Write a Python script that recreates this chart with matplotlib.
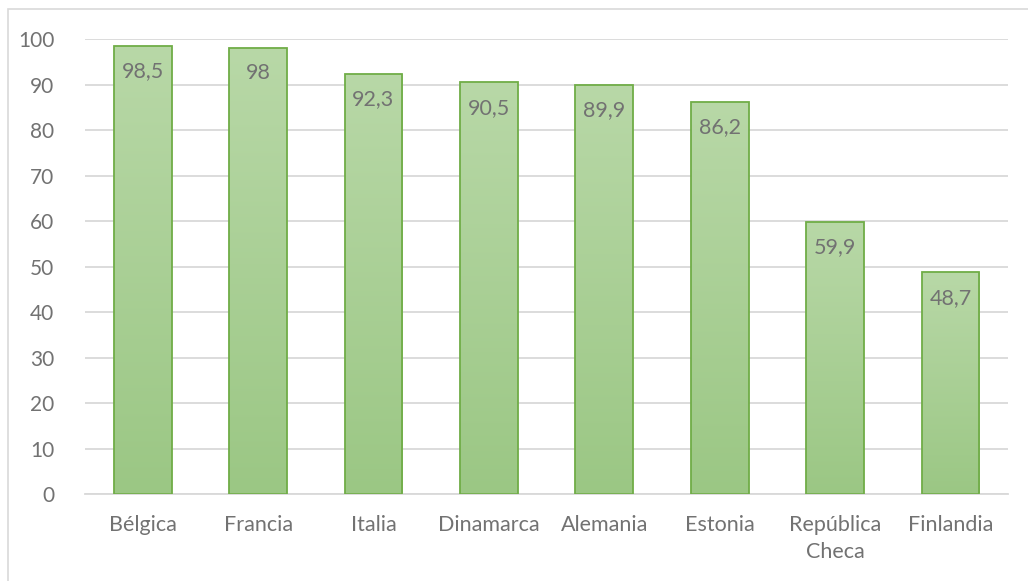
import numpy as np
import matplotlib.pyplot as plt
from matplotlib.colors import LinearSegmentedColormap
from matplotlib.patches import Rectangle

# Data
countries = ["Bélgica", "Francia", "Italia", "Dinamarca", "Alemania",
             "Estonia", "República\nCheca", "Finlandia"]
values = [98.5, 98, 92.3, 90.5, 89.9, 86.2, 59.9, 48.7]
value_labels = ["98,5", "98", "92,3", "90,5", "89,9", "86,2", "59,9", "48,7"]

plt.rcParams["font.family"] = ["Lato", "DejaVu Sans"]
TEXT = "#727272"
GRID = "#d9d9d9"

fig = plt.figure(figsize=(10.28, 5.81), dpi=100)
ax = fig.add_axes([0.0827, 0.1497, 0.898, 0.783])

x = np.arange(len(countries))
bars = ax.bar(x, values, width=0.5, color="none", edgecolor="#70ad47",
              linewidth=1.3, zorder=3)

# vertical gradient inside each bar
grad = LinearSegmentedColormap.from_list("g", ["#9bc784", "#b8d8a7"])
gimg = np.linspace(0, 1, 256).reshape(-1, 1)
for b in bars:
    x0, w, h = b.get_x(), b.get_width(), b.get_height()
    im = ax.imshow(gimg, cmap=grad, origin="lower", aspect="auto",
                   extent=[x0, x0 + w, 0, h], zorder=2)
    im.set_clip_path(b)

for b, lab in zip(bars, value_labels):
    ax.annotate(lab, (b.get_x() + b.get_width() / 2, b.get_height()),
                xytext=(0, -11), textcoords="offset points",
                ha="center", va="top", fontsize=15.5, color=TEXT, zorder=4)

ax.set_xlim(-0.5, len(countries) - 0.5)
ax.set_ylim(0, 100)
ax.set_yticks(range(0, 101, 10))
ax.set_xticks(x)
ax.set_xticklabels(countries, fontsize=15.5, color=TEXT, linespacing=1.45)
ax.tick_params(axis="y", labelsize=15, labelcolor=TEXT, length=0, pad=22)
ax.tick_params(axis="x", length=0, pad=15)
ax.grid(axis="y", color=GRID, linewidth=1.3, zorder=0)
ax.set_axisbelow(True)
for s in ["top", "right", "left"]:
    ax.spines[s].set_visible(False)
ax.spines["bottom"].set_color(GRID)
ax.spines["bottom"].set_linewidth(1.3)

# chart area frame
fig.patches.append(Rectangle((8 / 1028, -0.02), 1.1, 1 - 9 / 581 + 0.02,
                             transform=fig.transFigure, fill=False,
                             edgecolor=GRID, linewidth=1.2))

fig.savefig("out.png", dpi=100)
